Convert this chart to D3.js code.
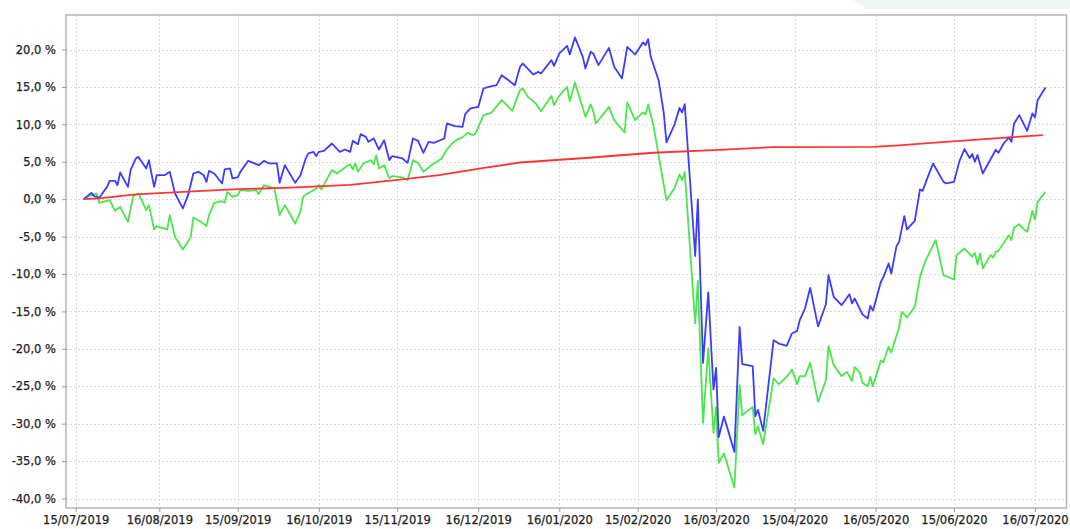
<!DOCTYPE html>
<html>
<head>
<meta charset="utf-8">
<script src="https://cdn.jsdelivr.net/npm/d3@7"></script>
<style>
    html, body { margin: 0; padding: 0; background: #fff; }
    svg { display: block; }
    .tick text { font-family: "DejaVu Sans", sans-serif; font-size: 11.5px; fill: #222; stroke: #222; stroke-width: 0.25px; }
</style>
</head>
<body>
<div id="chart"></div>
<script>
// tick labels
const xTickDates = ["2019-07-15", "2019-08-16", "2019-09-15", "2019-10-16", "2019-11-15", "2019-12-16",
    "2020-01-16", "2020-02-15", "2020-03-16", "2020-04-15", "2020-05-16", "2020-06-15", "2020-07-16"];
const yTicks = [-40, -35, -30, -25, -20, -15, -10, -5, 0, 5, 10, 15, 20];

// blue series
const blueDates = [
    "2019-07-18", "2019-07-21", "2019-07-22", "2019-07-24", "2019-07-27", "2019-07-28", "2019-07-30", "2019-07-31",
    "2019-08-01", "2019-08-04", "2019-08-05", "2019-08-07", "2019-08-08", "2019-08-11", "2019-08-12", "2019-08-14",
    "2019-08-15", "2019-08-18", "2019-08-20", "2019-08-22", "2019-08-25", "2019-08-27", "2019-08-29", "2019-08-31",
    "2019-09-02", "2019-09-03", "2019-09-04", "2019-09-06", "2019-09-09", "2019-09-10", "2019-09-12", "2019-09-13",
    "2019-09-15", "2019-09-16", "2019-09-19", "2019-09-23", "2019-09-25", "2019-09-27", "2019-09-30", "2019-10-01",
    "2019-10-03", "2019-10-07", "2019-10-09", "2019-10-11", "2019-10-12", "2019-10-14", "2019-10-15", "2019-10-16",
    "2019-10-18", "2019-10-21", "2019-10-24", "2019-10-26", "2019-10-28", "2019-10-29", "2019-10-31", "2019-11-01",
    "2019-11-03", "2019-11-04", "2019-11-06", "2019-11-08", "2019-11-10", "2019-11-12", "2019-11-13", "2019-11-17",
    "2019-11-19", "2019-11-21", "2019-11-23", "2019-11-25", "2019-11-27", "2019-11-29", "2019-12-03", "2019-12-04",
    "2019-12-07", "2019-12-10", "2019-12-11", "2019-12-13", "2019-12-16", "2019-12-18", "2019-12-20", "2019-12-23",
    "2019-12-25", "2019-12-30", "2020-01-01", "2020-01-02", "2020-01-06", "2020-01-08", "2020-01-09", "2020-01-13",
    "2020-01-14", "2020-01-16", "2020-01-19", "2020-01-20", "2020-01-22", "2020-01-25", "2020-01-26", "2020-01-28",
    "2020-01-29", "2020-01-31", "2020-02-04", "2020-02-06", "2020-02-09", "2020-02-11", "2020-02-14", "2020-02-17",
    "2020-02-18", "2020-02-19", "2020-02-20", "2020-02-23", "2020-02-25", "2020-02-26", "2020-02-29", "2020-03-02",
    "2020-03-03", "2020-03-04", "2020-03-08", "2020-03-09", "2020-03-11", "2020-03-13", "2020-03-15", "2020-03-16",
    "2020-03-17", "2020-03-19", "2020-03-23", "2020-03-25", "2020-03-26", "2020-03-30", "2020-03-31", "2020-04-01",
    "2020-04-03", "2020-04-07", "2020-04-09", "2020-04-12", "2020-04-14", "2020-04-16", "2020-04-17", "2020-04-19",
    "2020-04-21", "2020-04-24", "2020-04-27", "2020-04-28", "2020-04-30", "2020-05-03", "2020-05-06", "2020-05-07",
    "2020-05-08", "2020-05-11", "2020-05-13", "2020-05-14", "2020-05-15", "2020-05-18", "2020-05-19", "2020-05-21",
    "2020-05-22", "2020-05-24", "2020-05-25", "2020-05-27", "2020-05-28", "2020-05-31", "2020-06-02", "2020-06-03",
    "2020-06-05", "2020-06-07", "2020-06-11", "2020-06-12", "2020-06-15", "2020-06-17", "2020-06-19", "2020-06-21",
    "2020-06-22", "2020-06-23", "2020-06-24", "2020-06-26", "2020-07-01", "2020-07-02", "2020-07-04", "2020-07-06",
    "2020-07-07", "2020-07-08", "2020-07-10", "2020-07-13", "2020-07-15", "2020-07-16", "2020-07-17", "2020-07-20"];
const blueValues = [
    0.0, 0.84, 0.4, 0.2, 1.64, 2.45, 2.45, 1.87,
    3.57, 1.64, 3.88, 5.44, 5.65, 4.1, 5.2, 1.64,
    3.2, 3.2, 3.65, 0.76, -1.24, 0.53, 3.43, 3.65,
    3.2, 2.3, 3.78, 3.43, 2.1, 3.97, 4.1, 2.77,
    2.9, 3.65, 5.12, 4.54, 5.12, 4.77, 4.77, 2.18,
    4.54, 2.18, 3.2, 5.44, 6.11, 6.32, 5.75, 6.32,
    6.45, 7.44, 6.32, 6.64, 6.32, 7.79, 7.35, 8.69,
    8.33, 7.66, 8.11, 6.64, 7.88, 5.21, 5.75, 5.44,
    4.85, 8.11, 7.79, 6.19, 7.66, 7.52, 8.11, 10.12,
    9.76, 9.66, 11.36, 12.12, 12.33, 14.79, 15.0, 15.23,
    16.57, 15.23, 17.68, 18.13, 16.66, 17.01, 16.8, 18.58,
    17.81, 19.47, 20.49, 19.34, 21.61, 19.02, 17.47, 19.68,
    19.47, 17.91, 20.22, 17.68, 16.13, 20.35, 19.34, 20.94,
    20.58, 21.38, 19.02, 15.9, 11.45, 7.58, 9.89, 12.2,
    11.59, 12.7, -7.6, -0.04, -21.9, -12.45, -25.43, -22.55,
    -31.8, -29.05, -33.77, -17.07, -22.05, -22.32, -29.0, -28.15,
    -30.96, -18.84, -19.3, -19.6, -17.95, -17.6, -16.17, -14.61,
    -11.85, -17.0, -14.05, -10.16, -13.05, -14.17, -12.7, -13.94,
    -13.27, -15.4, -15.94, -14.25, -14.9, -11.1, -10.42, -8.59,
    -9.93, -6.3, -5.71, -2.27, -4.05, -2.9, 1.3, 1.11,
    2.98, 4.77, 2.31, 2.1, 2.31, 4.98, 6.7, 5.5,
    6.05, 5.0, 5.9, 3.43, 6.6, 6.19, 7.44, 8.25,
    7.66, 10.12, 11.23, 9.13, 11.45, 10.92, 13.23, 14.93];

// green series
const greenDates = [
    "2019-07-18", "2019-07-21", "2019-07-23", "2019-07-24", "2019-07-28", "2019-07-30", "2019-08-01", "2019-08-04",
    "2019-08-06", "2019-08-08", "2019-08-11", "2019-08-12", "2019-08-14", "2019-08-15", "2019-08-19", "2019-08-20",
    "2019-08-22", "2019-08-25", "2019-08-28", "2019-08-29", "2019-09-01", "2019-09-03", "2019-09-04", "2019-09-06",
    "2019-09-09", "2019-09-10", "2019-09-11", "2019-09-13", "2019-09-15", "2019-09-16", "2019-09-19", "2019-09-22",
    "2019-09-23", "2019-09-25", "2019-09-29", "2019-10-01", "2019-10-03", "2019-10-07", "2019-10-09", "2019-10-10",
    "2019-10-11", "2019-10-15", "2019-10-16", "2019-10-17", "2019-10-21", "2019-10-23", "2019-10-26", "2019-10-28",
    "2019-10-29", "2019-10-30", "2019-10-31", "2019-11-02", "2019-11-05", "2019-11-06", "2019-11-07", "2019-11-08",
    "2019-11-10", "2019-11-12", "2019-11-13", "2019-11-17", "2019-11-19", "2019-11-21", "2019-11-23", "2019-11-25",
    "2019-11-28", "2019-11-30", "2019-12-02", "2019-12-04", "2019-12-06", "2019-12-08", "2019-12-10", "2019-12-12",
    "2019-12-14", "2019-12-15", "2019-12-18", "2019-12-21", "2019-12-25", "2019-12-27", "2019-12-29", "2020-01-01",
    "2020-01-02", "2020-01-04", "2020-01-07", "2020-01-09", "2020-01-13", "2020-01-14", "2020-01-16", "2020-01-19",
    "2020-01-20", "2020-01-22", "2020-01-26", "2020-01-28", "2020-01-29", "2020-01-30", "2020-02-04", "2020-02-06",
    "2020-02-10", "2020-02-11", "2020-02-14", "2020-02-17", "2020-02-18", "2020-02-19", "2020-02-21", "2020-02-23",
    "2020-02-26", "2020-02-29", "2020-03-02", "2020-03-03", "2020-03-04", "2020-03-08", "2020-03-09", "2020-03-11",
    "2020-03-13", "2020-03-15", "2020-03-16", "2020-03-17", "2020-03-19", "2020-03-23", "2020-03-25", "2020-03-26",
    "2020-03-30", "2020-03-31", "2020-04-01", "2020-04-03", "2020-04-07", "2020-04-09", "2020-04-12", "2020-04-14",
    "2020-04-16", "2020-04-17", "2020-04-19", "2020-04-21", "2020-04-24", "2020-04-27", "2020-04-28", "2020-04-30",
    "2020-05-03", "2020-05-05", "2020-05-07", "2020-05-08", "2020-05-10", "2020-05-11", "2020-05-13", "2020-05-14",
    "2020-05-15", "2020-05-18", "2020-05-19", "2020-05-21", "2020-05-22", "2020-05-25", "2020-05-26", "2020-05-28",
    "2020-05-31", "2020-06-02", "2020-06-04", "2020-06-08", "2020-06-11", "2020-06-15", "2020-06-16", "2020-06-19",
    "2020-06-22", "2020-06-23", "2020-06-24", "2020-06-25", "2020-06-26", "2020-06-29", "2020-06-30", "2020-07-01",
    "2020-07-02", "2020-07-06", "2020-07-07", "2020-07-08", "2020-07-10", "2020-07-11", "2020-07-13", "2020-07-15",
    "2020-07-16", "2020-07-17", "2020-07-20"];
const greenValues = [
    0.0, 0.53, 0.76, -0.49, -0.13, -1.56, -1.03, -3.03,
    0.4, 0.76, -1.47, -0.8, -4.05, -3.6, -4.05, -2.14,
    -5.04, -6.72, -5.04, -2.45, -3.03, -3.6, -2.14, -0.49,
    -0.27, -0.49, 0.98, 0.31, 0.53, 1.2, 1.11, 1.2,
    0.67, 1.87, 1.43, -2.14, -0.8, -3.25, -1.6, 0.31,
    0.6, 1.43, 1.87, 1.3, 3.88, 3.43, 4.24, 4.68,
    3.97, 4.77, 3.65, 4.77, 5.21, 4.68, 5.88, 4.1,
    4.54, 2.77, 3.07, 2.9, 2.54, 5.21, 4.85, 3.65,
    4.54, 4.98, 5.44, 6.64, 7.44, 7.98, 8.25, 8.86,
    8.55, 8.78, 11.23, 11.53, 13.23, 12.56, 11.8, 14.57,
    14.79, 13.67, 12.79, 11.76, 13.8, 12.56, 13.8, 15.01,
    13.1, 15.6, 11.0, 12.66, 11.76, 10.12, 12.33, 10.56,
    8.91, 12.92, 10.56, 11.59, 11.32, 12.66, 9.89, 5.88,
    -0.13, 1.43, 3.3, 2.54, 3.65, -16.61, -10.92, -29.9,
    -19.95, -31.23, -27.76, -35.24, -33.98, -38.53, -24.86, -28.87,
    -27.76, -31.4, -30.34, -32.74, -23.96, -24.72, -23.75, -22.76,
    -24.72, -23.65, -23.65, -21.88, -27.09, -24.2, -19.64, -22.18,
    -23.65, -23.08, -24.3, -22.4, -23.2, -24.55, -24.99, -23.75,
    -24.99, -21.55, -21.8, -19.7, -20.5, -17.15, -15.06, -15.81,
    -14.39, -10.38, -8.3, -5.48, -10.16, -10.73, -7.48, -6.59,
    -7.71, -7.18, -8.69, -7.26, -9.26, -7.48, -7.79, -7.04,
    -6.91, -4.81, -5.48, -3.78, -3.34, -3.78, -4.37, -1.56,
    -2.71, -0.36, 0.98];

// red series
const redDates = ["2019-07-18", "2019-07-24", "2019-08-07", "2019-08-27", "2019-09-13", "2019-10-05", "2019-10-28",
    "2019-11-16", "2019-12-01", "2019-12-17", "2020-01-01", "2020-01-26", "2020-02-21", "2020-03-17", "2020-04-07",
    "2020-05-15", "2020-05-25", "2020-06-05", "2020-06-20", "2020-07-06", "2020-07-19"];
const redValues = [0.0, 0.1, 0.65, 1.0, 1.3, 1.55, 1.9, 2.6, 3.2, 4.1, 4.9, 5.5, 6.2, 6.6, 6.95, 7.0, 7.2, 7.5,
    7.85, 8.25, 8.55];

const WIDTH = 1070;
const HEIGHT = 529;
const PLOT = {left: 66, top: 15, right: 1066.5, bottom: 508};

const parseDate = d3.timeParse("%Y-%m-%d");
const toPoints = (dates, values) => dates.map((d, i) => ({date: parseDate(d), value: values[i]}));

const svg = d3.select("#chart")
    .append("svg")
    .attr("width", WIDTH)
    .attr("height", HEIGHT);

// light page decoration in the top right corner
svg.append("path")
    .attr("d", "M853,0 L1070,0 L1070,9 L866,9 Z")
    .attr("fill", "#eff7f2");

// the first and last tick dates / values fix the scales
const x = d3.scaleTime()
    .domain([parseDate(xTickDates[0]), parseDate(xTickDates[xTickDates.length - 1])])
    .range([75.7, 1035]);

const y = d3.scaleLinear()
    .domain([-40, 20])
    .range([498.5, 49.5]);

svg.append("rect")
    .attr("x", PLOT.left)
    .attr("y", PLOT.top)
    .attr("width", PLOT.right - PLOT.left)
    .attr("height", PLOT.bottom - PLOT.top)
    .attr("fill", "#fff");

// grid
const grid = svg.append("g").attr("stroke", "#d9d9d9").attr("stroke-width", 1).attr("stroke-dasharray", "2,2");
grid.selectAll("line.v")
    .data(xTickDates.map(parseDate))
    .join("line")
    .attr("x1", d => Math.round(x(d)) + 0.5)
    .attr("x2", d => Math.round(x(d)) + 0.5)
    .attr("y1", PLOT.top)
    .attr("y2", PLOT.bottom);
grid.selectAll("line.h")
    .data(yTicks)
    .join("line")
    .attr("x1", PLOT.left)
    .attr("x2", PLOT.right)
    .attr("y1", d => Math.round(y(d)) + 0.5)
    .attr("y2", d => Math.round(y(d)) + 0.5);

// series
svg.append("clipPath")
    .attr("id", "plot-clip")
    .append("rect")
    .attr("x", PLOT.left)
    .attr("y", PLOT.top)
    .attr("width", PLOT.right - PLOT.left)
    .attr("height", PLOT.bottom - PLOT.top);

const line = d3.line()
    .x(d => x(d.date))
    .y(d => y(d.value));

const series = [
    {points: toPoints(greenDates, greenValues), color: "#4be64b"},
    {points: toPoints(blueDates, blueValues), color: "#3c3cff"},
    {points: toPoints(redDates, redValues), color: "#ff3535"}
];

svg.append("g")
    .attr("clip-path", "url(#plot-clip)")
    .selectAll("path")
    .data(series)
    .join("path")
    .attr("fill", "none")
    .attr("stroke", d => d.color)
    .attr("stroke-width", 1.8)
    .attr("stroke-linejoin", "round")
    .attr("d", d => line(d.points));

// plot outline
svg.append("rect")
    .attr("x", PLOT.left)
    .attr("y", PLOT.top)
    .attr("width", PLOT.right - PLOT.left)
    .attr("height", PLOT.bottom - PLOT.top)
    .attr("fill", "none")
    .attr("stroke", "#b4b4b4")
    .attr("stroke-width", 1.5);

// axes
const yAxis = svg.append("g")
    .attr("transform", `translate(${PLOT.left},0)`)
    .call(d3.axisLeft(y)
        .tickValues(yTicks)
        .tickSize(4)
        .tickPadding(6)
        .tickFormat(d => d.toFixed(1).replace(".", ",") + " %"));

const xAxis = svg.append("g")
    .attr("transform", `translate(0,${PLOT.bottom})`)
    .call(d3.axisBottom(x)
        .tickValues(xTickDates.map(parseDate))
        .tickSize(4)
        .tickPadding(4)
        .tickFormat(d3.timeFormat("%d/%m/%Y")));

[xAxis, yAxis].forEach(axis => {
    axis.select(".domain").remove();
    axis.selectAll(".tick line").attr("stroke", "#999");
});
</script>
</body>
</html>
